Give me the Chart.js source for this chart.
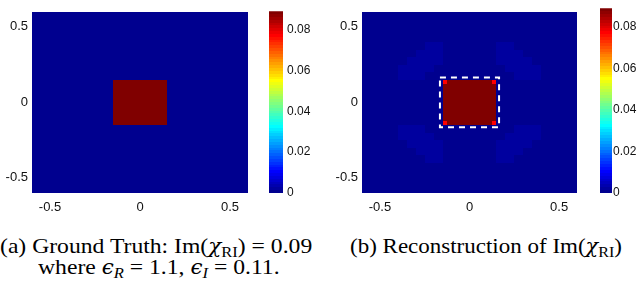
<!DOCTYPE html>
<html>
<head>
<meta charset="utf-8">
<script src="https://cdn.jsdelivr.net/npm/chart.js@4.4.1/dist/chart.umd.min.js"></script>
<style>
  body { margin: 0; background: #fff; width: 640px; height: 283px; overflow: hidden; position: relative; }
  canvas { position: absolute; top: 0; }
  .cap { position: absolute; font-family: "Liberation Serif", "Times New Roman", serif; font-size: 22px; line-height: 22px; white-space: nowrap; color: #000; transform-origin: 0 0; }
  .cap sub { font-size: 70%; vertical-align: -0.25em; line-height: 0; }
  .cap .m { font-family: "DejaVu Serif", "Liberation Serif", serif; font-style: italic; font-size: 20px; }
</style>
</head>
<body>
<canvas id="heatA" width="260" height="222" style="left:0px"></canvas>
<canvas id="barA" width="60" height="222" style="left:260px"></canvas>
<canvas id="heatB" width="260" height="222" style="left:330px"></canvas>
<canvas id="barB" width="50" height="222" style="left:590px"></canvas>

<div class="cap" style="left:0px;top:235px;transform:scaleX(1.075)">(a) Ground Truth: Im(<span class="m">χ</span><sub>RI</sub>) = 0.09</div>
<div class="cap" style="left:38px;top:256px;transform:scaleX(1.075)">where <span class="m">ϵ</span><sub><i>R</i></sub> = 1.1, <span class="m">ϵ</span><sub><i>I</i></sub> = 0.11.</div>
<div class="cap" style="left:350px;top:235px;transform:scaleX(1.045)">(b) Reconstruction of Im(<span class="m">χ</span><sub>RI</sub>)</div>

<script>
// axis ranges and ticks
var xMin = -0.6, xMax = 0.6;
var yMin = -0.6, yMax = 0.6;
var xTickVals = [-0.5, 0, 0.5];
var yTickVals = [-0.5, 0, 0.5];
var cbMin = 0, cbMax = 0.089;
var cbTickVals = [0, 0.02, 0.04, 0.06, 0.08];
var cbTickLabels = ["0", "0.02", "0.04", "0.06", "0.08"];

// cell edges of the image grid (x left->right, y top->bottom)
var xEdges = [-0.6,-0.55,-0.5,-0.45,-0.4,-0.35,-0.3,-0.25,-0.2,-0.15,-0.1,-0.05,0,0.05,0.1,0.15,0.2,0.25,0.3,0.35,0.4,0.45,0.5,0.55,0.6];
var yEdges = [0.6,0.55,0.5,0.45,0.4,0.35,0.3,0.25,0.2,0.15,0.1,0.05,0,-0.05,-0.1,-0.15,-0.2,-0.25,-0.3,-0.35,-0.4,-0.45,-0.5,-0.55,-0.6];

// ground truth: Im(chi) = 0.09 inside the square, 0 outside
var o = 0, t = 0.09;
var truthGrid = [
  [o,o,o,o,o,o,o,o,o,o,o,o,o,o,o,o,o,o,o,o,o,o,o,o],
  [o,o,o,o,o,o,o,o,o,o,o,o,o,o,o,o,o,o,o,o,o,o,o,o],
  [o,o,o,o,o,o,o,o,o,o,o,o,o,o,o,o,o,o,o,o,o,o,o,o],
  [o,o,o,o,o,o,o,o,o,o,o,o,o,o,o,o,o,o,o,o,o,o,o,o],
  [o,o,o,o,o,o,o,o,o,o,o,o,o,o,o,o,o,o,o,o,o,o,o,o],
  [o,o,o,o,o,o,o,o,o,o,o,o,o,o,o,o,o,o,o,o,o,o,o,o],
  [o,o,o,o,o,o,o,o,o,o,o,o,o,o,o,o,o,o,o,o,o,o,o,o],
  [o,o,o,o,o,o,o,o,o,o,o,o,o,o,o,o,o,o,o,o,o,o,o,o],
  [o,o,o,o,o,o,o,o,o,o,o,o,o,o,o,o,o,o,o,o,o,o,o,o],
  [o,o,o,o,o,o,o,o,o,t,t,t,t,t,t,o,o,o,o,o,o,o,o,o],
  [o,o,o,o,o,o,o,o,o,t,t,t,t,t,t,o,o,o,o,o,o,o,o,o],
  [o,o,o,o,o,o,o,o,o,t,t,t,t,t,t,o,o,o,o,o,o,o,o,o],
  [o,o,o,o,o,o,o,o,o,t,t,t,t,t,t,o,o,o,o,o,o,o,o,o],
  [o,o,o,o,o,o,o,o,o,t,t,t,t,t,t,o,o,o,o,o,o,o,o,o],
  [o,o,o,o,o,o,o,o,o,t,t,t,t,t,t,o,o,o,o,o,o,o,o,o],
  [o,o,o,o,o,o,o,o,o,o,o,o,o,o,o,o,o,o,o,o,o,o,o,o],
  [o,o,o,o,o,o,o,o,o,o,o,o,o,o,o,o,o,o,o,o,o,o,o,o],
  [o,o,o,o,o,o,o,o,o,o,o,o,o,o,o,o,o,o,o,o,o,o,o,o],
  [o,o,o,o,o,o,o,o,o,o,o,o,o,o,o,o,o,o,o,o,o,o,o,o],
  [o,o,o,o,o,o,o,o,o,o,o,o,o,o,o,o,o,o,o,o,o,o,o,o],
  [o,o,o,o,o,o,o,o,o,o,o,o,o,o,o,o,o,o,o,o,o,o,o,o],
  [o,o,o,o,o,o,o,o,o,o,o,o,o,o,o,o,o,o,o,o,o,o,o,o],
  [o,o,o,o,o,o,o,o,o,o,o,o,o,o,o,o,o,o,o,o,o,o,o,o],
  [o,o,o,o,o,o,o,o,o,o,o,o,o,o,o,o,o,o,o,o,o,o,o,o]
];

// reconstruction: faint lobes round the square (b background, m edge, L lobe, S square)
var b = 0.0005, m = 0.001, L = 0.0016, S = 0.089;
var reconGrid = [
  [b,b,b,b,b,b,b,b,b,b,b,b,b,b,b,b,b,b,b,b,b,b,b,b],
  [b,b,b,b,b,b,b,b,b,b,b,b,b,b,b,b,b,b,b,b,b,b,b,b],
  [b,b,b,b,b,b,b,b,b,b,b,b,b,b,b,b,b,b,b,b,b,b,b,b],
  [b,b,b,b,b,b,b,b,m,b,b,b,b,b,b,m,b,b,b,b,b,b,b,b],
  [b,b,b,b,b,b,m,L,L,m,b,b,b,b,m,L,L,m,b,b,b,b,b,b],
  [b,b,b,b,b,m,L,L,L,m,b,b,b,b,m,L,L,L,m,b,b,b,b,b],
  [b,b,b,b,m,L,L,L,L,m,b,b,b,b,m,L,L,L,L,m,b,b,b,b],
  [b,b,b,b,L,L,L,L,m,b,b,b,b,b,b,m,L,L,L,L,b,b,b,b],
  [b,b,b,m,L,L,L,m,b,b,b,b,b,b,b,b,m,L,L,L,m,b,b,b],
  [b,b,b,b,m,m,m,b,b,S,S,S,S,S,S,b,b,m,m,m,b,b,b,b],
  [b,b,b,b,b,b,b,b,b,S,S,S,S,S,S,b,b,b,b,b,b,b,b,b],
  [b,b,b,b,b,b,b,b,b,S,S,S,S,S,S,b,b,b,b,b,b,b,b,b],
  [b,b,b,b,b,b,b,b,b,S,S,S,S,S,S,b,b,b,b,b,b,b,b,b],
  [b,b,b,b,b,b,b,b,b,S,S,S,S,S,S,b,b,b,b,b,b,b,b,b],
  [b,b,b,b,m,m,m,b,b,S,S,S,S,S,S,b,b,m,m,m,b,b,b,b],
  [b,b,b,m,L,L,L,m,b,b,b,b,b,b,b,b,m,L,L,L,m,b,b,b],
  [b,b,b,b,L,L,L,L,m,b,b,b,b,b,b,m,L,L,L,L,b,b,b,b],
  [b,b,b,b,m,L,L,L,L,m,b,b,b,b,m,L,L,L,L,m,b,b,b,b],
  [b,b,b,b,b,m,L,L,L,m,b,b,b,b,m,L,L,L,m,b,b,b,b,b],
  [b,b,b,b,b,b,m,L,L,m,b,b,b,b,m,L,L,m,b,b,b,b,b,b],
  [b,b,b,b,b,b,b,b,m,b,b,b,b,b,b,m,b,b,b,b,b,b,b,b],
  [b,b,b,b,b,b,b,b,b,b,b,b,b,b,b,b,b,b,b,b,b,b,b,b],
  [b,b,b,b,b,b,b,b,b,b,b,b,b,b,b,b,b,b,b,b,b,b,b,b],
  [b,b,b,b,b,b,b,b,b,b,b,b,b,b,b,b,b,b,b,b,b,b,b,b]
];

// brighter corner spots of the reconstructed square
var spotX = [-0.1375, 0.1375, -0.1375, 0.1375];
var spotY = [0.1375, 0.1375, -0.1375, -0.1375];
var spotVal = [0.077, 0.077, 0.077, 0.077];
var spotHalf = 0.0125;

// true boundary (dashed box)
var boxX = [-0.165, 0.165, 0.165, -0.165, -0.165];
var boxY = [0.165, 0.165, -0.165, -0.165, 0.165];

// MATLAB jet(64)
var u = [];
for (var k = 1; k <= 16; k++) u.push(k / 16);
for (var k = 0; k < 15; k++) u.push(1);
for (var k = 16; k >= 1; k--) u.push(k / 16);
var jetMap = [];
for (var i = 0; i < 64; i++) jetMap.push([0, 0, 0]);
u.forEach(function(v, k) {
  var g = 8 + k;
  if (g < 64) jetMap[g][1] = v;
  if (g + 16 < 64) jetMap[g + 16][0] = v;
  if (g - 16 >= 0) jetMap[g - 16][2] = v;
});
function jetColor(idx) {
  var c = jetMap[idx];
  return "rgb(" + Math.round(c[0] * 255) + "," + Math.round(c[1] * 255) + "," + Math.round(c[2] * 255) + ")";
}
function colorFor(v) {
  var idx = Math.floor((v - cbMin) / (cbMax - cbMin) * 64);
  if (idx < 0) idx = 0;
  if (idx > 63) idx = 63;
  return jetColor(idx);
}

var tickFont = { family: "'Liberation Sans', Arial, sans-serif", size: 13 };
var cbFont = { family: "'Liberation Sans', Arial, sans-serif", size: 12 };

function heatPlugin(grid, spots) {
  return {
    id: "heat",
    beforeDatasetsDraw: function(chart) {
      var ctx = chart.ctx, xs = chart.scales.x, ys = chart.scales.y;
      ctx.save();
      for (var i = 0; i < grid.length; i++) {
        var y0 = Math.round(ys.getPixelForValue(yEdges[i]));
        var y1 = Math.round(ys.getPixelForValue(yEdges[i + 1]));
        for (var j = 0; j < grid[i].length; j++) {
          var x0 = Math.round(xs.getPixelForValue(xEdges[j]));
          var x1 = Math.round(xs.getPixelForValue(xEdges[j + 1]));
          ctx.fillStyle = colorFor(grid[i][j]);
          ctx.fillRect(x0, y0, x1 - x0, y1 - y0);
        }
      }
      if (spots) {
        for (var s = 0; s < spotX.length; s++) {
          var sx0 = Math.round(xs.getPixelForValue(spotX[s] - spotHalf));
          var sx1 = Math.round(xs.getPixelForValue(spotX[s] + spotHalf));
          var sy0 = Math.round(ys.getPixelForValue(spotY[s] + spotHalf));
          var sy1 = Math.round(ys.getPixelForValue(spotY[s] - spotHalf));
          ctx.fillStyle = colorFor(spotVal[s]);
          ctx.fillRect(sx0, sy0, sx1 - sx0, sy1 - sy0);
        }
      }
      ctx.restore();
    }
  };
}

function makeHeat(id, grid, spots, showBox, padRight) {
  var ds = [];
  if (showBox) {
    ds.push({
      data: boxX.map(function(x, i) { return { x: x, y: boxY[i] }; }),
      showLine: true,
      borderColor: "#ffffff",
      borderWidth: 2,
      borderDash: [6, 5],
      pointRadius: 0,
      fill: false
    });
  } else {
    ds.push({ data: [] });
  }
  return new Chart(document.getElementById(id), {
    type: "scatter",
    data: { datasets: ds },
    options: {
      responsive: false,
      animation: false,
      devicePixelRatio: 1,
      layout: { padding: { top: 5, right: padRight, left: 0, bottom: 0 } },
      plugins: { legend: { display: false }, tooltip: { enabled: false } },
      scales: {
        x: {
          type: "linear", min: xMin, max: xMax,
          grid: { display: false, drawTicks: false }, border: { display: false },
          afterBuildTicks: function(s) { s.ticks = xTickVals.map(function(v) { return { value: v }; }); },
          afterFit: function(s) { s.height = 29; },
          ticks: { font: tickFont, color: "#111", padding: 7, maxRotation: 0,
                   callback: function(v) { return String(v); } }
        },
        y: {
          type: "linear", min: yMin, max: yMax,
          grid: { display: false, drawTicks: false }, border: { display: false },
          afterBuildTicks: function(s) { s.ticks = yTickVals.map(function(v) { return { value: v }; }); },
          afterFit: function(s) { s.width = 32; },
          ticks: { font: tickFont, color: "#111", padding: 4,
                   callback: function(v) { return String(v); } }
        }
      }
    },
    plugins: [heatPlugin(grid, spots)]
  });
}

function makeBar(id, padLeft, axisWidth, labelPad) {
  return new Chart(document.getElementById(id), {
    type: "bar",
    data: {
      labels: ["cb"],
      datasets: [{
        data: [[cbMin, cbMax]],
        borderWidth: 0,
        barPercentage: 1,
        categoryPercentage: 1,
        backgroundColor: function(c) {
          var area = c.chart.chartArea;
          if (!area) return "#000080";
          var g = c.chart.ctx.createLinearGradient(0, area.bottom, 0, area.top);
          for (var i = 0; i < 64; i++) {
            g.addColorStop(i / 64, jetColor(i));
            g.addColorStop((i + 1) / 64, jetColor(i));
          }
          return g;
        }
      }]
    },
    options: {
      responsive: false,
      animation: false,
      devicePixelRatio: 1,
      layout: { padding: { top: 5, left: padLeft, right: 0, bottom: 29 } },
      plugins: { legend: { display: false }, tooltip: { enabled: false } },
      scales: {
        x: { display: false },
        y: {
          position: "right", min: cbMin, max: cbMax,
          grid: { display: false, drawTicks: false }, border: { display: false },
          afterBuildTicks: function(s) { s.ticks = cbTickVals.map(function(v) { return { value: v }; }); },
          afterFit: function(s) { s.width = axisWidth; },
          ticks: { font: cbFont, color: "#111", padding: labelPad,
                   callback: function(v, i) { return cbTickLabels[i]; } }
        }
      }
    }
  });
}

makeHeat("heatA", truthGrid, false, false, 12);
makeBar("barA", 9, 37, 4);
makeHeat("heatB", reconGrid, true, true, 13);
makeBar("barB", 10, 28, 1);
</script>
</body>
</html>
